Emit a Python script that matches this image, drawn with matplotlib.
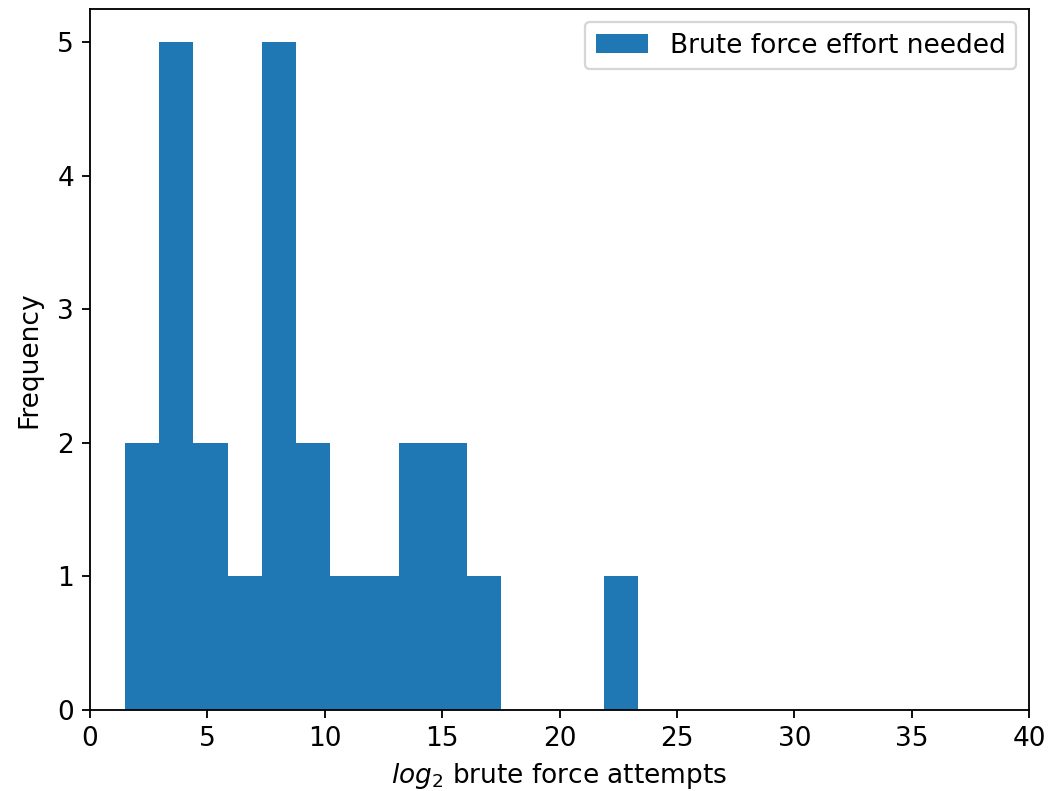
import numpy as np
import matplotlib
matplotlib.use("Agg")
import matplotlib.pyplot as plt

# histogram: 15 equal bins between the min and max value
x_min = 1.49
x_max = 23.34
counts = [2, 5, 2, 1, 5, 2, 1, 1, 2, 2, 1, 0, 0, 0, 1]
label = "Brute force effort needed"

edges = np.linspace(x_min, x_max, len(counts) + 1)
centers = (edges[:-1] + edges[1:]) / 2

plt.rcParams["font.size"] = 11.5

fig = plt.figure(figsize=(1061 / 165, 791 / 165), dpi=165)
ax = fig.add_axes([90 / 1061, 1 - 710 / 791, (1029 - 90) / 1061, (710 - 9) / 791])

ax.hist(centers, bins=edges, weights=counts, color="#1f77b4", label=label)

ax.set_xlim(0, 40)
ax.set_xlabel("$log_2$ brute force attempts")
ax.set_ylabel("Frequency", labelpad=6.5)
ax.legend(loc="upper right")

fig.savefig("out.png", dpi=165)
